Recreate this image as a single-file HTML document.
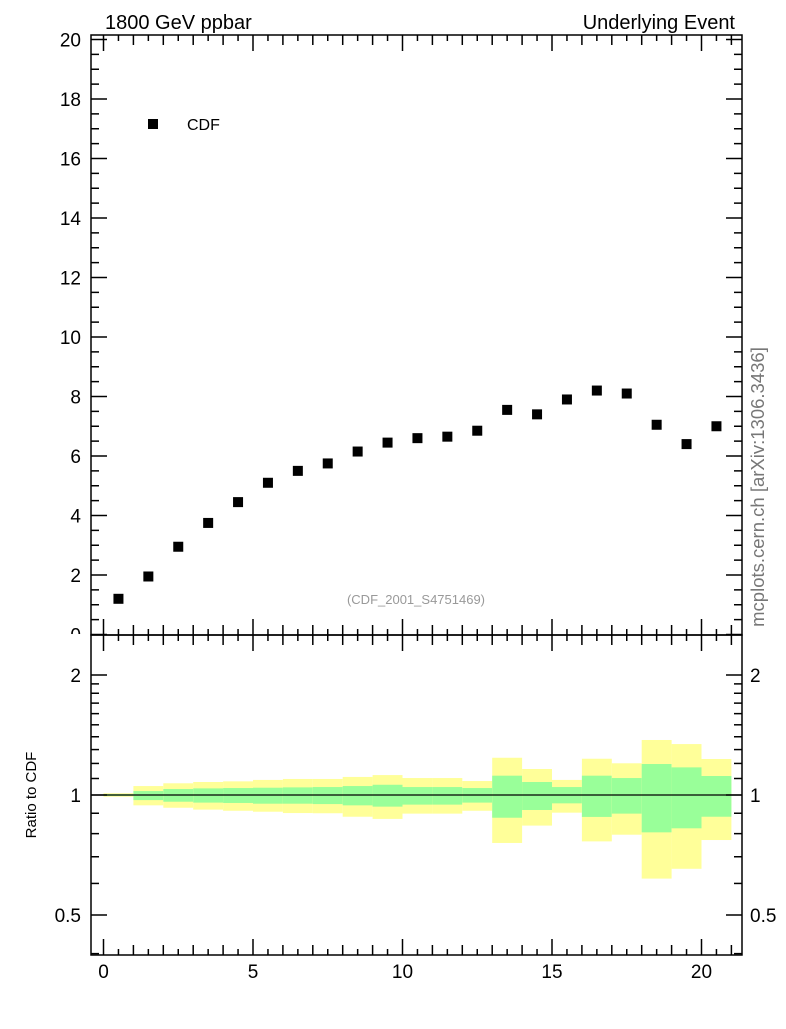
<!DOCTYPE html>
<html><head><meta charset="utf-8"><style>
body{margin:0;background:#fff;}
svg text{font-family:"Liberation Sans",sans-serif;}
</style></head><body>
<svg id="c" width="786" height="1024" xmlns="http://www.w3.org/2000/svg">
<defs><clipPath id="topclip"><rect x="0" y="0" width="786" height="634"/></clipPath></defs>
<text x="105" y="29" font-size="20">1800 GeV ppbar</text>
<text x="735" y="29" font-size="20" text-anchor="end">Underlying Event</text>
<text x="416" y="604" font-size="13" fill="#999" text-anchor="middle">(CDF_2001_S4751469)</text>
<text transform="translate(764,487) rotate(-90)" font-size="18.5" fill="#777" text-anchor="middle">mcplots.cern.ch [arXiv:1306.3436]</text>
<text transform="translate(36,795) rotate(-90)" font-size="15" text-anchor="middle">Ratio to CDF</text>
<rect x="148" y="119" width="10" height="10" fill="#000"/>
<text x="187" y="130" font-size="16">CDF</text>
<g id="bands"></g><g id="axes"></g><g id="pts"></g>
</svg>
<script>
const xCenters=[0.5,1.5,2.5,3.5,4.5,5.5,6.5,7.5,8.5,9.5,10.5,11.5,12.5,13.5,14.5,15.5,16.5,17.5,18.5,19.5,20.5];
const yValues=[1.2,1.95,2.95,3.75,4.45,5.1,5.5,5.75,6.15,6.45,6.6,6.65,6.85,7.55,7.4,7.9,8.2,8.1,7.05,6.4,7.0];
const yellowHi=[1.01,1.053,1.070,1.078,1.082,1.091,1.097,1.097,1.110,1.122,1.103,1.103,1.084,1.240,1.162,1.091,1.233,1.201,1.374,1.342,1.231];
const greenHi=[1.005,1.023,1.035,1.039,1.041,1.043,1.045,1.047,1.053,1.061,1.047,1.047,1.041,1.118,1.078,1.047,1.118,1.103,1.196,1.173,1.116];
const greenLo=[0.995,0.971,0.962,0.957,0.955,0.951,0.951,0.949,0.942,0.935,0.946,0.946,0.957,0.877,0.917,0.953,0.881,0.898,0.806,0.825,0.882];
const yellowLo=[0.99,0.942,0.929,0.919,0.913,0.908,0.901,0.900,0.882,0.871,0.898,0.898,0.913,0.758,0.838,0.903,0.765,0.795,0.617,0.653,0.771];
const mainTicks=[0,2,4,6,8,10,12,14,16,18,20];
const ratioTicks=[0.5,1,2];
const xTicks=[0,5,10,15,20];
const NS="http://www.w3.org/2000/svg";
const L=91,R=742,T=35,M=635,B=955;
const X=v=>103.5+v*29.9;
const Y=v=>634.5-v*29.75;
const RY=v=>795-120*Math.log2(v);
function mk(p,tag,a){const e=document.createElementNS(NS,tag);for(const k in a)e.setAttribute(k,a[k]);document.getElementById(p).appendChild(e);return e;}
for(let i=0;i<xCenters.length;i++){
 const x0=X(xCenters[i]-0.5),w=X(xCenters[i]+0.5)-x0;
 let e=mk('bands','rect',{x:x0,y:RY(yellowHi[i]),width:w,height:RY(yellowLo[i])-RY(yellowHi[i]),fill:'#ffff99'});
 
 
 e=mk('bands','rect',{x:x0,y:RY(greenHi[i]),width:w,height:RY(greenLo[i])-RY(greenHi[i]),fill:'#99ff99'});
 
 
 e=mk('pts','rect',{x:X(xCenters[i])-5,y:Y(yValues[i])-5,width:10,height:10,fill:'#000'});
 
 
}
let ln=mk('axes','line',{x1:L,x2:R,y1:RY(1),y2:RY(1),stroke:'#000','stroke-width':1.2});


function line(x1,y1,x2,y2,w){mk('axes','line',{x1,y1,x2,y2,stroke:'#000','stroke-width':w||1.5});}
for(const [t,b] of [[T,M],[M,B]]){const r=mk('axes','rect',{x:L,y:t,width:R-L,height:b-t,fill:'none',stroke:'#000','stroke-width':1.5});}
for(let v=0;v<=20.01;v+=0.5){const y=Y(v);if(y<T)continue;const big=Math.abs(v%2)<1e-6;const l=big?16:8;line(L,y,L+l,y);line(R,y,R-l,y);}
mainTicks.forEach(v=>{const t=mk('axes','text',{x:81,y:Y(v)+7,'font-size':19,'text-anchor':'end'});t.textContent=v;if(v===0)t.setAttribute('clip-path','url(#topclip)');});
[0.4,0.5,0.6,0.7,0.8,0.9,1,1.1,1.2,1.3,1.4,1.5,1.6,1.7,1.8,1.9,2].forEach(v=>{const y=RY(v);if(y<M||y>B)return;const big=ratioTicks.includes(v);const l=big?16:8;line(L,y,L+l,y);line(R,y,R-l,y);});
ratioTicks.forEach(v=>{let t=mk('axes','text',{x:81,y:RY(v)+7,'font-size':19,'text-anchor':'end'});t.textContent=v;
 t=mk('axes','text',{x:750,y:RY(v)+7,'font-size':19});t.textContent=v;});
for(let v=0;v<=21;v+=0.5){const x=X(v);if(x>R)continue;const big=Math.abs(v%5)<1e-6;const l=big?16:(Math.abs(v%1)<1e-6?10:6);
 for(const [yy,d] of [[T,1],[M,-1],[M,1],[B,-1]])line(x,yy,x,yy+d*l);}
xTicks.forEach(v=>{const t=mk('axes','text',{x:X(v),y:978,'font-size':19,'text-anchor':'middle'});t.textContent=v;});
</script>
</body></html>
